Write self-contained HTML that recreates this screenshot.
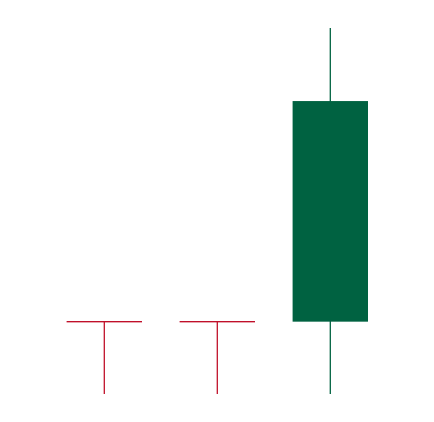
<!DOCTYPE html>
<html><head><meta charset="utf-8"><style>html,body{margin:0;padding:0;background:#fff;}svg{display:block}</style></head>
<body>
<svg id="chart" width="434" height="422" viewBox="0 0 434 422"></svg>
<script>
const categories = ["c1", "c2", "c3"];
const opens = [20, 20, 20];
const highs = [20, 20, 60.6];
const lows = [10, 10, 10];
const closes = [20, 20, 50.5];

const svg = document.getElementById('chart');
const NS = 'http://www.w3.org/2000/svg';
const yMin = 10, yMax = 60.6, pxBottom = 394, pxTop = 28;
function y(v){ return pxBottom - (v - yMin) / (yMax - yMin) * (pxBottom - pxTop); }
const x0 = 104.3, step = 113;
function x(i){ return x0 + i * step; }
const halfW = 37.7;

categories.forEach((c, i) => {
  const up = closes[i] > opens[i];
  const col = up ? '#006241' : '#c0102a';
  const g = document.createElementNS(NS, 'g');
  
  
  const wick = document.createElementNS(NS, 'line');
  
  
  wick.setAttribute('x1', x(i)); wick.setAttribute('x2', x(i));
  wick.setAttribute('y1', y(highs[i])); wick.setAttribute('y2', y(lows[i]));
  wick.setAttribute('stroke', col); wick.setAttribute('stroke-width', 1.3);
  g.appendChild(wick);
  const top = y(Math.max(opens[i], closes[i])), bot = y(Math.min(opens[i], closes[i]));
  if (bot - top < 1) {
    const ln = document.createElementNS(NS, 'line');
    
    
    ln.setAttribute('x1', x(i) - halfW); ln.setAttribute('x2', x(i) + halfW);
    ln.setAttribute('y1', top); ln.setAttribute('y2', top);
    ln.setAttribute('stroke', col); ln.setAttribute('stroke-width', 1.3);
    g.appendChild(ln);
  } else {
    const r = document.createElementNS(NS, 'rect');
    
    
    r.setAttribute('x', x(i) - halfW); r.setAttribute('width', halfW * 2);
    r.setAttribute('y', top); r.setAttribute('height', bot - top);
    r.setAttribute('fill', col);
    g.appendChild(r);
  }
  svg.appendChild(g);
});
</script>
</body></html>
